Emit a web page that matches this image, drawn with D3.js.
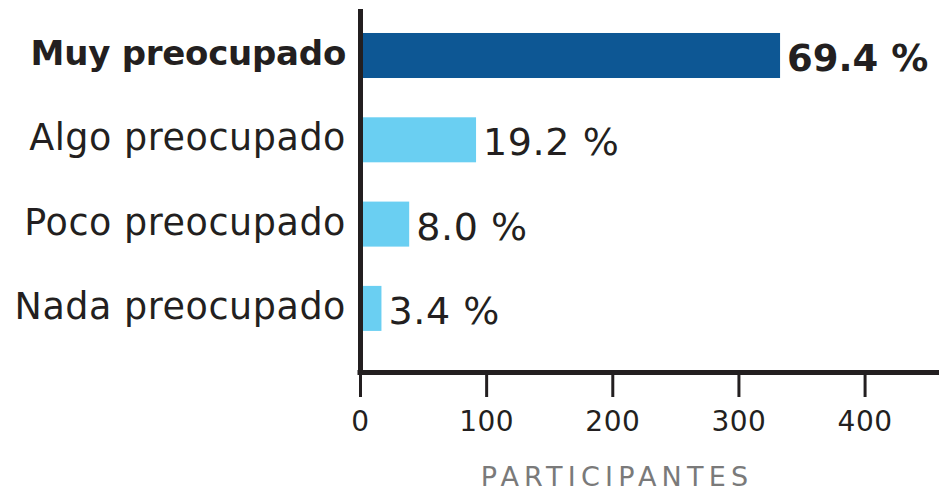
<!DOCTYPE html>
<html>
<head>
<meta charset="utf-8">
<script src="https://cdn.jsdelivr.net/npm/d3@7"></script>
<style>
  html, body { margin: 0; padding: 0; background: #fff; }
  svg { display: block; font-family: "DejaVu Sans", sans-serif; }
</style>
</head>
<body>
<svg id="chart" width="939" height="491"></svg>
<script>
// Data
const categories = ["Muy preocupado", "Algo preocupado", "Poco preocupado", "Nada preocupado"];
const participants = [333, 92, 39, 17];
const percentLabels = ["69.4 %", "19.2 %", "8.0 %", "3.4 %"];
const xTicks = [0, 100, 200, 300, 400];
const xAxisTitle = "PARTICIPANTES";

const data = categories.map((c, i) => ({ cat: c, value: participants[i], label: percentLabels[i], main: i === 0 }));

const svg = d3.select("#chart");
const x = d3.scaleLinear().domain([0, 459]).range([360, 939]);
const y = d3.scaleBand().domain(categories).range([7.7, 356.2]).paddingInner(0.466).paddingOuter(0.3);

const dark = "#231f20";

// Bars
svg.append("g").selectAll("rect").data(data).join("rect")
  .attr("x", x(0) + 2)
  .attr("y", d => y(d.cat))
  .attr("width", d => x(d.value) - x(0) - 2)
  .attr("height", y.bandwidth())
  .attr("fill", d => d.main ? "#0d5794" : "#6acff2");

// Category labels
svg.append("g").selectAll("text").data(data).join("text")
  .attr("x", 346)
  .attr("y", d => y(d.cat) + y.bandwidth() / 2 + (d.main ? 9.5 : 10.5))
  .attr("text-anchor", "end")
  .attr("fill", dark)
  .style("font-size", d => d.main ? "34px" : "36.5px")
  .style("font-weight", d => d.main ? "bold" : "normal")
  .style("letter-spacing", d => d.main ? "-0.25px" : "0.55px")
  .text(d => d.cat);

// Value labels
svg.append("g").selectAll("text").data(data).join("text")
  .attr("x", d => x(d.value) + 7)
  .attr("y", d => y(d.cat) + y.bandwidth() / 2 + 15.5)
  .attr("fill", dark)
  .style("font-size", d => d.main ? "37px" : "38px")
  .style("font-weight", d => d.main ? "bold" : "normal")
  .style("letter-spacing", d => d.main ? "0px" : "0.6px")
  .text(d => d.label);

// X axis
const xAxis = d3.axisBottom(x).tickValues(xTicks).tickSize(24).tickPadding(10).tickSizeOuter(0);
const gx = svg.append("g").attr("transform", "translate(0,373)").call(xAxis);
gx.select(".domain").remove();
gx.selectAll(".tick line").attr("stroke", dark).attr("stroke-width", 3);
gx.selectAll(".tick text")
  .attr("fill", dark)
  .attr("dy", null)
  .attr("y", 58)
  .style("font-size", "28px")
  .style("letter-spacing", "0.5px")
  .style("font-family", "DejaVu Sans, sans-serif");

// Axis lines
svg.append("line")
  .attr("x1", x(0) - 2.5).attr("x2", 939)
  .attr("y1", 372.5).attr("y2", 372.5)
  .attr("stroke", dark).attr("stroke-width", 5);
svg.append("line")
  .attr("x1", x(0) + 0.5).attr("x2", x(0) + 0.5)
  .attr("y1", 9).attr("y2", 375)
  .attr("stroke", dark).attr("stroke-width", 5);

// Axis title
svg.append("text")
  .attr("x", 617)
  .attr("y", 486)
  .attr("text-anchor", "middle")
  .attr("fill", "#7a7a7a")
  .style("font-size", "27px")
  .style("letter-spacing", "5.2px")
  .text(xAxisTitle);
</script>
</body>
</html>
